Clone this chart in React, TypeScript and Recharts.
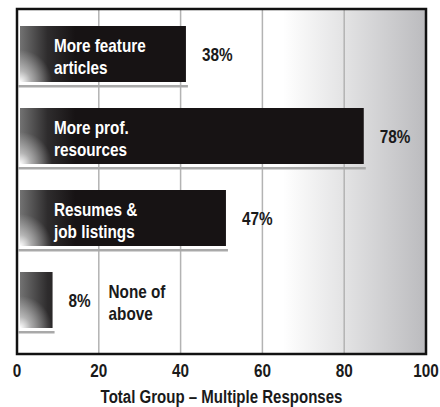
import { BarChart, Bar, XAxis, YAxis, CartesianGrid, LabelList, usePlotArea } from 'recharts';

const NAMES = ['More feature\narticles', 'More prof.\nresources', 'Resumes &\njob listings', 'None of\nabove'];
const PERCENTS = [38, 78, 47, 8];
const X_TICKS = [0, 20, 40, 60, 80, 100];
const AXIS_TITLE = 'Total Group \u2013 Multiple Responses';

const data = NAMES.map((name, i) => ({ name, value: PERCENTS[i] }));

const FONT = "'Liberation Sans', Arial, sans-serif";
const SQUEEZE = 0.85; // narrow the font to look like a condensed face

function NarrowText({ x, y, children, fill = '#1a1a1a', size = 18, anchor = 'start', dy = 0 }: any) {
  return (
    <text
      transform={`translate(${x} ${y}) scale(${SQUEEZE} 1)`}
      x={0}
      y={0}
      dy={dy}
      textAnchor={anchor}
      fill={fill}
      fontSize={size}
      fontWeight="bold"
      fontFamily={FONT}
    >
      {children}
    </text>
  );
}

function BarShape(props: any) {
  const { x, y, width, height, index } = props;
  const bx = x + 3;
  const bw = Math.max(width - 3, 0);
  return (
    <g>
      <defs>
        <linearGradient id={`barFill${index}`} gradientUnits="userSpaceOnUse" x1={bx} y1={0} x2={bx + 55} y2={0}>
          <stop offset="0%" stopColor="#727272" />
          <stop offset="50%" stopColor="#2e2c2d" />
          <stop offset="100%" stopColor="#171314" />
        </linearGradient>
        <radialGradient id={`barGlow${index}`} gradientUnits="userSpaceOnUse" cx={bx} cy={y + height} r={32}>
          <stop offset="0%" stopColor="#ffffff" stopOpacity={1} />
          <stop offset="35%" stopColor="#ffffff" stopOpacity={0.5} />
          <stop offset="100%" stopColor="#ffffff" stopOpacity={0} />
        </radialGradient>
      </defs>
      <rect x={bx - 2} y={y + height + 3} width={bw + 4} height={2.5} fill="#a9a9a9" />
      <rect x={bx} y={y} width={bw} height={height} fill={`url(#barFill${index})`} />
      <rect x={bx} y={y} width={bw} height={height} fill={`url(#barGlow${index})`} />
    </g>
  );
}

function renderLabels(props: any) {
  const { x, y, width, height, value, index } = props;
  const cy = y + height / 2;
  const lines = NAMES[index].split('\n');
  const inside = width > 100;
  const nameX = inside ? x + 37 : x + width + 56;
  const nameFill = inside ? '#ffffff' : '#1a1a1a';
  return (
    <g>
      <NarrowText x={x + width + 16} y={cy + 7}>{value}%</NarrowText>
      <NarrowText x={nameX} y={cy - 2} fill={nameFill}>{lines[0]}</NarrowText>
      <NarrowText x={nameX} y={cy + 20} fill={nameFill}>{lines[1]}</NarrowText>
    </g>
  );
}

function renderTick(props: any) {
  const { x, y, payload } = props;
  return <NarrowText x={x} y={y} dy="0.71em" anchor="middle">{payload.value}</NarrowText>;
}

function renderTitle(props: any) {
  const vb = props.viewBox;
  return (
    <NarrowText x={vb.x + vb.width / 2} y={vb.y + vb.height - 4} anchor="middle" size={17.7}>
      {AXIS_TITLE}
    </NarrowText>
  );
}

function Frame() {
  const area = usePlotArea();
  if (!area) return null;
  return <rect x={area.x} y={area.y} width={area.width} height={area.height} fill="none" stroke="#111" strokeWidth={2.5} />;
}

export default function App() {
  return (
    <div style={{ position: 'absolute', left: 0, top: 0, background: '#fff' }}>
      <BarChart
        width={440}
        height={407}
        data={data}
        layout="vertical"
        margin={{ top: 9, right: 14, left: 17, bottom: 0 }}
      >
        <defs>
          <linearGradient id="bgFade" x1="0" y1="0" x2="1" y2="0">
            <stop offset="0%" stopColor="#ffffff" />
            <stop offset="65%" stopColor="#ffffff" />
            <stop offset="80%" stopColor="#e3e3e4" />
            <stop offset="100%" stopColor="#bbbbbe" />
          </linearGradient>
        </defs>
        <CartesianGrid
          xAxisId="ticks"
          horizontal={false}
          stroke="#b3b3b3"
          strokeWidth={1.5}
          fill="url(#bgFade)"
          fillOpacity={1}
        />
        <XAxis
          xAxisId="ticks"
          type="number"
          domain={[0, 100]}
          allowDataOverflow
          ticks={X_TICKS}
          interval={0}
          tickLine={false}
          axisLine={false}
          tickSize={0}
          tickMargin={10}
          height={53}
          tick={renderTick}
          label={{ content: renderTitle }}
        />
        <XAxis xAxisId="bars" orientation="top" height={0} type="number" domain={[0, 92]} allowDataOverflow hide />
        <YAxis type="category" dataKey="name" hide padding={{ top: 4, bottom: 13 }} />
        <Bar xAxisId="bars" dataKey="value" barSize={56} shape={BarShape} isAnimationActive={false}>
          <LabelList dataKey="value" content={renderLabels} />
        </Bar>
        <Frame />
      </BarChart>
    </div>
  );
}
